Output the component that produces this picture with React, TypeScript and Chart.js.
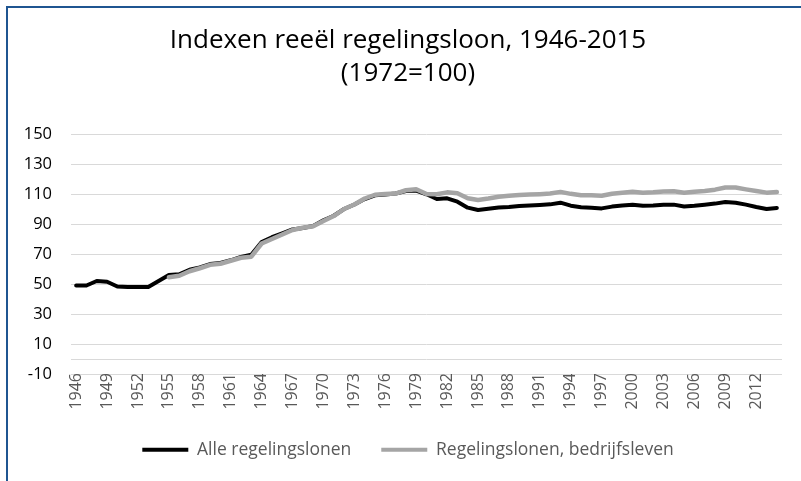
import React, { useEffect, useRef } from "react";
import { Chart, registerables } from "chart.js";

Chart.register(...registerables);

const years: string[] = [];
for (let y = 1946; y <= 2014; y++) years.push(String(y));

const alleRegelingslonen: number[] = [
  49, 49, 52, 51.5, 48.3, 48, 48, 48, 52, 56,
  56.5, 59.5, 61, 63.3, 64, 65.8, 68, 69.5, 78, 81.2,
  83.8, 86.4, 87.3, 88.7, 92.5, 95.5, 100, 103, 106.6, 109.1,
  109.7, 110.3, 112, 112.3, 109.8, 106.7, 107.1, 104.9, 100.9, 99.3,
  100.2, 101, 101.4, 102, 102.4, 102.7, 103.1, 104.2, 102.2, 101.2,
  100.8, 100.4, 101.6, 102.4, 102.9, 102.1, 102.3, 102.9, 102.9, 101.7,
  102.2, 102.9, 103.6, 104.7, 104.2, 102.9, 101.3, 100, 100.7,
];

const bedrijfsleven: (number | null)[] = [
  null, null, null, null, null, null, null, null, null, 54.5,
  55.5, 58.5, 60.5, 62.8, 63.5, 65.5, 67.5, 68.2, 77, 80,
  83, 86, 87.5, 88.5, 92, 95.3, 100, 103, 107, 109.5,
  110, 110.3, 112.5, 113.2, 110, 109.8, 111.1, 110.5, 107.2, 106,
  107, 108.2, 108.9, 109.3, 109.6, 109.9, 110.3, 111.4, 110.1, 109.1,
  109.1, 108.8, 110.2, 110.9, 111.5, 110.9, 111.1, 111.7, 111.8, 110.8,
  111.5, 112, 112.9, 114.3, 114.3, 113.1, 112, 110.9, 111.3,
];

const titleLines = ["Indexen reeël regelingsloon, 1946-2015", "(1972=100)"];
const seriesNames = ["Alle regelingslonen", "Regelingslonen, bedrijfsleven"];

const FONT = "'Open Sans', 'Noto Sans', sans-serif";

export default function App() {
  const ref = useRef<HTMLCanvasElement | null>(null);

  useEffect(() => {
    if (!ref.current) return;
    const chart = new Chart(ref.current, {
      type: "line",
      data: {
        labels: years,
        datasets: [
          {
            label: seriesNames[0],
            data: alleRegelingslonen,
            borderColor: "#000000",
            backgroundColor: "#000000",
            borderWidth: 4,
            pointRadius: 0,
            tension: 0,
            borderCapStyle: "round",
            borderJoinStyle: "round",
            order: 1,
          },
          {
            label: seriesNames[1],
            data: bedrijfsleven,
            borderColor: "#A5A5A5",
            backgroundColor: "#A5A5A5",
            borderWidth: 4.5,
            pointRadius: 0,
            tension: 0,
            borderCapStyle: "round",
            borderJoinStyle: "round",
            order: 0,
          },
        ],
      },
      options: {
        animation: false,
        responsive: false,
        layout: { padding: { left: 20, right: 5, top: 0, bottom: 13 } },
        plugins: {
          tooltip: { enabled: false },
          title: {
            display: true,
            text: titleLines,
            color: "#000000",
            font: { family: FONT, size: 26, weight: "normal", lineHeight: "33px" },
            padding: { top: 24, bottom: 44 },
          },
          legend: {
            position: "bottom",
            maxHeight: 57,
            labels: {
              boxWidth: 46,
              boxHeight: 4,
              padding: 30,
              color: "#595959",
              font: { family: FONT, size: 17.5 },
              sort: (a: any, b: any) => a.datasetIndex - b.datasetIndex,
              generateLabels: (c: any) =>
                (Chart.defaults.plugins.legend.labels as any)
                  .generateLabels(c)
                  .map((l: any) => ({ ...l, lineWidth: 0, fillStyle: l.strokeStyle })),
            },
          },
        },
        scales: {
          x: {
            type: "category",
            offset: true,
            grid: { display: false, drawTicks: false },
            border: { display: false },
            afterFit: (scale: any) => {
              scale.height = 37;
              scale.paddingLeft = 0;
              scale.paddingRight = 19;
            },
            ticks: {
              autoSkip: false,
              minRotation: 90,
              maxRotation: 90,
              padding: -1,
              color: "#595959",
              font: { family: FONT, size: 16 },
              callback: (_v: any, i: number) => (i % 3 === 0 ? years[i] : ""),
            },
          },
          y: {
            min: -10,
            max: 150,
            grid: { color: "#D9D9D9", lineWidth: 1, drawTicks: false },
            border: { display: false },
            afterFit: (scale: any) => {
              scale.width = 51;
            },
            afterBuildTicks: (scale: any) => {
              scale.ticks.push({ value: 0 });
              scale.ticks.sort((a: any, b: any) => a.value - b.value);
            },
            ticks: {
              stepSize: 20,
              padding: 19,
              color: "#000000",
              font: { family: FONT, size: 16.5 },
              callback: (v: any) => (v === 0 ? "" : String(v)),
            },
          },
        },
      },
    });
    return () => chart.destroy();
  }, []);

  return (
    <div
      style={{
        position: "fixed",
        left: 0,
        top: 0,
        width: 801,
        height: 481,
        overflow: "hidden",
        background: "#ffffff",
      }}
    >
      <div
        style={{
          position: "absolute",
          left: 6,
          top: 6,
          width: 900,
          height: 600,
          border: "2px solid #1f5591",
          boxSizing: "border-box",
        }}
      />
      <canvas
        ref={ref}
        width={801}
        height={481}
        style={{ position: "absolute", left: 0, top: 0, width: 801, height: 481 }}
      />
    </div>
  );
}
